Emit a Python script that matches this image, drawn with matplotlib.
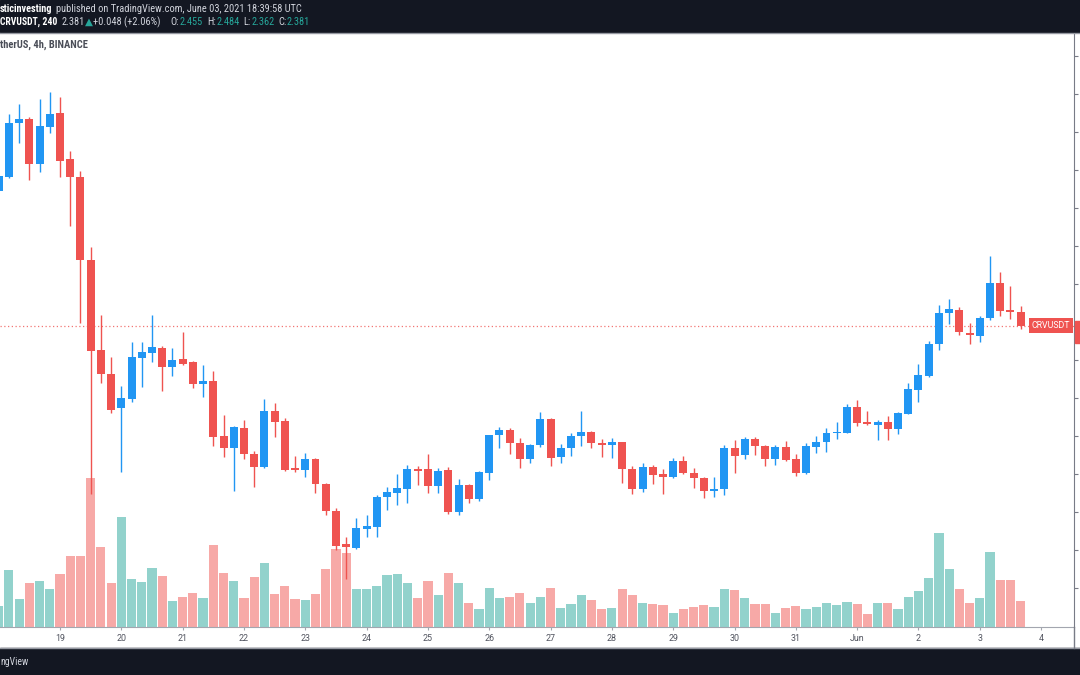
import numpy as np
import pandas as pd
import matplotlib
matplotlib.use("Agg")
import matplotlib.pyplot as plt
import matplotlib.transforms as mtransforms
from matplotlib import font_manager
from matplotlib.patches import Rectangle
from matplotlib.lines import Line2D

W, H, DPI = 1080, 675, 100

# CRVUSDT 4h candles (Binance), first bar 18 May 2021 00:00 UTC
first_bar = "2021-05-18 00:00"
opens = [3.089, 3.163, 3.446, 3.468, 3.232, 3.426, 3.500, 3.258, 3.163, 2.726,
         2.253, 2.126, 1.947, 1.995, 2.211, 2.237, 2.263, 2.163, 2.205, 2.189,
         2.074, 2.089, 1.800, 1.737, 1.842, 1.705, 1.637, 1.932, 1.879, 1.629,
         1.621, 1.679, 1.547, 1.405, 1.232, 1.211, 1.311, 1.321, 1.479, 1.500,
         1.521, 1.626, 1.626, 1.537, 1.621, 1.400, 1.542, 1.468, 1.605, 1.805,
         1.832, 1.763, 1.679, 1.753, 1.889, 1.689, 1.737, 1.800, 1.821, 1.763,
         1.753, 1.768, 1.626, 1.521, 1.637, 1.600, 1.584, 1.668, 1.605, 1.579,
         1.511, 1.521, 1.737, 1.700, 1.784, 1.747, 1.679, 1.742, 1.679, 1.605,
         1.742, 1.768, 1.816, 1.816, 1.953, 1.874, 1.858, 1.874, 1.837, 1.916,
         2.042, 2.116, 2.284, 2.447, 2.463, 2.342, 2.326, 2.421, 2.605, 2.463, 2.455]
highs = [3.179, 3.495, 3.547, 3.479, 3.574, 3.611, 3.584, 3.300, 3.195, 2.795,
         2.437, 2.216, 2.063, 2.295, 2.295, 2.437, 2.274, 2.263, 2.347, 2.195,
         2.174, 2.142, 1.911, 1.853, 1.884, 1.721, 1.995, 1.974, 1.895, 1.695,
         1.711, 1.684, 1.553, 1.421, 1.268, 1.368, 1.384, 1.489, 1.532, 1.600,
         1.647, 1.642, 1.705, 1.632, 1.637, 1.574, 1.547, 1.616, 1.805, 1.847,
         1.842, 1.789, 1.758, 1.926, 1.895, 1.758, 1.816, 1.932, 1.826, 1.784,
         1.789, 1.768, 1.642, 1.658, 1.647, 1.626, 1.684, 1.695, 1.632, 1.584,
         1.584, 1.753, 1.779, 1.795, 1.795, 1.753, 1.753, 1.774, 1.705, 1.763,
         1.800, 1.842, 1.874, 1.968, 1.989, 1.932, 1.884, 1.905, 1.926, 2.079,
         2.179, 2.300, 2.489, 2.521, 2.479, 2.395, 2.432, 2.747, 2.663, 2.589, 2.484]
lows = [3.079, 3.158, 3.342, 3.147, 3.189, 3.395, 3.163, 2.905, 2.395, 1.495,
        2.079, 1.921, 1.611, 1.979, 2.058, 2.189, 2.037, 2.116, 2.174, 2.053,
        2.005, 1.747, 1.689, 1.511, 1.679, 1.532, 1.632, 1.795, 1.616, 1.611,
        1.584, 1.500, 1.384, 1.200, 1.047, 1.205, 1.268, 1.268, 1.411, 1.437,
        1.447, 1.542, 1.500, 1.500, 1.389, 1.384, 1.447, 1.458, 1.568, 1.737,
        1.705, 1.632, 1.658, 1.742, 1.642, 1.658, 1.695, 1.747, 1.737, 1.689,
        1.684, 1.553, 1.495, 1.505, 1.547, 1.495, 1.579, 1.600, 1.526, 1.474,
        1.479, 1.489, 1.605, 1.679, 1.700, 1.642, 1.647, 1.668, 1.589, 1.600,
        1.711, 1.716, 1.784, 1.816, 1.853, 1.858, 1.779, 1.779, 1.811, 1.916,
        1.979, 2.111, 2.253, 2.389, 2.332, 2.284, 2.295, 2.411, 2.432, 2.416, 2.362]
closes = [3.168, 3.447, 3.467, 3.232, 3.432, 3.495, 3.247, 3.163, 2.726, 2.247,
          2.126, 1.937, 2.000, 2.216, 2.242, 2.268, 2.163, 2.200, 2.179, 2.074,
          2.089, 1.795, 1.737, 1.847, 1.705, 1.637, 1.932, 1.874, 1.621, 1.621,
          1.679, 1.547, 1.405, 1.221, 1.216, 1.316, 1.326, 1.479, 1.505, 1.526,
          1.626, 1.616, 1.537, 1.616, 1.400, 1.542, 1.468, 1.611, 1.805, 1.832,
          1.763, 1.679, 1.753, 1.889, 1.684, 1.737, 1.800, 1.821, 1.763, 1.753,
          1.768, 1.626, 1.521, 1.637, 1.595, 1.584, 1.668, 1.605, 1.579, 1.511,
          1.521, 1.737, 1.695, 1.784, 1.747, 1.679, 1.742, 1.674, 1.605, 1.747,
          1.768, 1.816, 1.821, 1.953, 1.868, 1.863, 1.874, 1.837, 1.921, 2.047,
          2.121, 2.284, 2.447, 2.468, 2.347, 2.332, 2.421, 2.605, 2.458, 2.453, 2.381]
# volume in millions CRV
volumes = [2.1, 5.7, 2.8, 4.4, 4.6, 3.8, 5.3, 7.1, 7.1, 14.9,
           8.0, 4.4, 11.0, 4.8, 4.5, 5.9, 5.1, 2.6, 3.0, 3.4,
           2.9, 8.2, 5.4, 4.6, 2.9, 5.0, 6.4, 3.3, 4.1, 2.8,
           2.7, 3.3, 5.8, 7.8, 7.4, 3.8, 3.8, 4.1, 5.2, 5.3,
           4.4, 2.9, 4.6, 3.2, 5.4, 4.4, 2.4, 1.8, 3.9, 2.9,
           3.0, 3.4, 2.4, 3.0, 3.9, 1.9, 2.3, 3.2, 2.7, 1.8,
           1.9, 3.8, 3.2, 2.4, 2.3, 2.2, 1.4, 1.8, 2.0, 2.2,
           2.0, 3.8, 3.7, 2.9, 2.3, 2.3, 1.4, 1.9, 2.1, 1.8,
           2.0, 2.4, 2.2, 2.5, 2.3, 1.3, 2.4, 2.4, 1.8, 3.0,
           3.6, 4.9, 9.4, 5.8, 3.8, 2.4, 2.9, 7.5, 4.7, 4.7, 2.6]

header_user = "sticinvesting"
header_pub = "published on TradingView.com, June 03, 2021 18:39:58 UTC"
chart_title = "therUS, 4h, BINANCE"
symbol = "CRVUSDT"
footer_txt = "ngView"
# (text, x start px, x end px, color key, bold)
legend_row = [("CRVUSDT, 240", 0, 58, "w", True), ("2.381", 62, 83, "l", False),
              ("\u25b2", 85, 90, "t", False), ("+0.048 (+2.06%)", 93, 167, "l", False),
              ("O:", 170, 178, "l", False), ("2.455", 180, 203, "t", False),
              ("H:", 207, 215, "l", False), ("2.484", 217, 240, "t", False),
              ("L:", 243, 250, "l", False), ("2.362", 252, 275, "t", False),
              ("C:", 278, 286, "l", False), ("2.381", 287, 310, "t", False)]

UP, DOWN = "#2196f3", "#ef5350"
VOL_UP, VOL_DOWN = "#92d2cc", "#f7a9a7"
DARK = "#131722"
TEAL = "#26a69a"
COLS = {"w": "#ffffff", "l": "#d1d4dc", "t": TEAL}

# the snapshot header uses a narrow sans; take the narrowest one installed
installed = {f.name for f in font_manager.fontManager.ttflist}
narrow = [n for n in ("Liberation Sans Narrow", "Roboto Condensed", "Open Sans Condensed",
                      "Noto Sans Condensed", "DejaVu Sans Condensed", "Roboto") if n in installed]
FONT = narrow[:1] + ["DejaVu Sans"]
TICK_FONT = ["Roboto", "DejaVu Sans"]

# pixel layout of the pane
BAR_PX = 10.22      # px per 4h bar
X0_PX = 60          # x px of 19 May 00:00
PANE_L, PANE_R, PANE_T, PANE_B = 0, 1074, 33, 627
PX_PER_USD = 190
Y_REF_PX, Y_REF = 398, 2.0
VOL_PX = 10         # px per million

dates = pd.date_range(first_bar, periods=len(opens), freq="4h")
t0 = pd.Timestamp("2021-05-19")
xs = np.asarray((dates - t0) / pd.Timedelta("4h"), dtype=float)
o, hi, lo, c, v = map(np.array, (opens, highs, lows, closes, volumes))
up = c >= o


def fx(px):
    return px / W


def fy(py):
    return 1 - py / H


fig = plt.figure(figsize=(W / DPI, H / DPI), dpi=DPI, facecolor="white")
rect = [fx(PANE_L), fy(PANE_B), fx(PANE_R - PANE_L), (PANE_B - PANE_T) / H]
axv = fig.add_axes(rect)
ax = fig.add_axes(rect)
ax.patch.set_visible(False)

xlim = ((PANE_L - X0_PX) / BAR_PX, (PANE_R - X0_PX) / BAR_PX)
ylim = (Y_REF - (PANE_B - Y_REF_PX) / PX_PER_USD, Y_REF + (Y_REF_PX - PANE_T) / PX_PER_USD)
axv.set_xlim(*xlim)
ax.set_xlim(*xlim)
ax.set_ylim(*ylim)
axv.set_ylim(0, (PANE_B - PANE_T) / VOL_PX)

# volume
axv.bar(xs, v, width=0.9, color=np.where(up, VOL_UP, VOL_DOWN), linewidth=0)
axv.axis("off")

# candles
col = np.where(up, UP, DOWN)
ax.vlines(xs, lo, hi, colors=col, linewidth=1, zorder=2)
ax.bar(xs, np.maximum(np.abs(c - o), 0.007), bottom=np.minimum(o, c), width=0.78,
       color=col, linewidth=0, zorder=3)

# last price line + labels
trans = mtransforms.blended_transform_factory(ax.transAxes, ax.transData)
ax.axhline(c[-1], color=DOWN, linewidth=0.9, linestyle=(0, (1, 2)), alpha=0.8, zorder=1)
ax.text(1 - 4 / PANE_R, c[-1], symbol, transform=trans, ha="right", va="center", color="white",
        fontsize=6.3, family=TICK_FONT, zorder=5,
        bbox=dict(boxstyle="square,pad=0.3", fc=DOWN, ec="none"))
ax.add_patch(Rectangle((1 + 1 / PANE_R, c[-1] - 17 / PX_PER_USD), 0.02, 22 / PX_PER_USD,
                       transform=trans, color=DOWN, clip_on=False, zorder=5))

# axes styling
for s in ("left", "top"):
    ax.spines[s].set_visible(False)
ax.spines["right"].set_color("#787b86")
ax.spines["bottom"].set_color("#a3a6af")
ax.yaxis.tick_right()
ax.set_yticks(np.arange(1.0, 3.91, 0.2))
ax.tick_params(axis="y", length=2.9, color="#787b86", labelright=False)

days = pd.date_range("2021-05-19", "2021-06-04", freq="D")
ax.set_xticks(np.asarray((days - t0) / pd.Timedelta("4h"), dtype=float))
ax.set_xticklabels(["Jun" if d.day == 1 else str(d.day) for d in days])
ax.tick_params(axis="x", length=2.5, color="#a3a6af", pad=2.5, labelsize=6.4,
               labelcolor="#50535e")
for lab in ax.get_xticklabels():
    lab.set_family(TICK_FONT)

# header / footer bands
fig.patches.append(Rectangle((0, fy(32)), 1, 32 / H, transform=fig.transFigure, color=DARK))
fig.patches.append(Rectangle((0, 0), 1, fy(648), transform=fig.transFigure, color=DARK))
fig.lines.append(Line2D([0, 1], [fy(32.5)] * 2, transform=fig.transFigure, color="#9598a1", lw=1))
fig.lines.append(Line2D([0, 1], [fy(647.5)] * 2, transform=fig.transFigure, color="#9598a1", lw=1))
fig.lines.append(Line2D([fx(PANE_R)] * 2, [fy(PANE_B), fy(648)], transform=fig.transFigure,
                        color="#787b86", lw=1))

renderer = fig.canvas.get_renderer()


def text_width(s, size, **kw):
    t = fig.text(0, 0, s, fontsize=size, **kw)
    w = t.get_window_extent(renderer).width
    t.remove()
    return w


def fit(s, px, cap, **kw):
    # font size that makes s span px pixels, no larger than cap
    return min(8 * px / text_width(s, 8, **kw), cap)


hdr = fit(header_pub, 303 - 56, 7.6, family=FONT)
fig.text(fx(0), fy(9), header_user, fontsize=fit(header_user, 53, hdr, family=FONT, weight="bold"),
         family=FONT, weight="bold", color="white", va="center")
fig.text(fx(56), fy(9), header_pub, fontsize=hdr, family=FONT, color=COLS["l"], va="center")
for s, x0, x1, ck, bold in legend_row:
    if bold:
        size = fit(s, x1 - x0, hdr, family=FONT, weight="bold")
    else:
        size = hdr
    fig.text(fx(x0), fy(22), s, fontsize=size, family=FONT, color=COLS[ck], va="center",
             weight="bold" if bold else "normal")

fig.text(fx(0), fy(45), chart_title, fontsize=fit(chart_title, 88, 7.6, family=FONT, weight="semibold"),
         family=FONT, weight="semibold", color="#4a4d57", va="center")
fig.text(fx(0), fy(662), footer_txt, fontsize=fit(footer_txt, 28, 8, family=FONT),
         family=FONT, color="#d1d4dc", va="center")

fig.savefig("out.png", dpi=DPI)
